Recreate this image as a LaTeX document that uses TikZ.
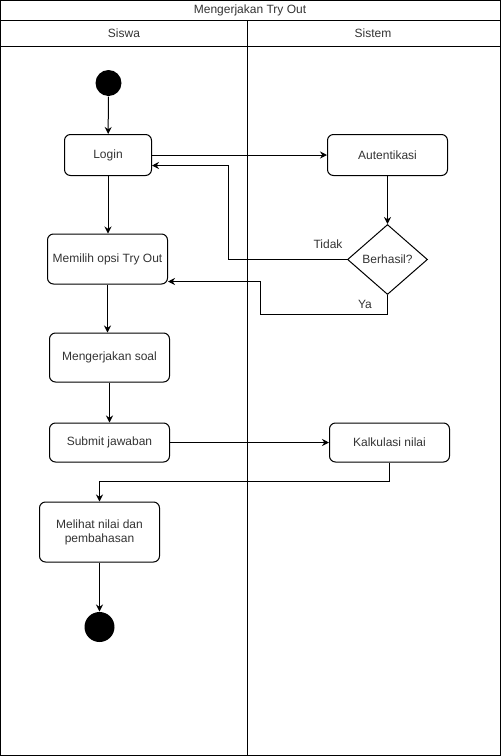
\documentclass[tikz,border=0pt]{standalone}
\usepackage{fontspec}
\setmainfont{Liberation Sans}
\usetikzlibrary{arrows.meta,shapes.geometric}
\tikzset{action/.style={draw, rounded corners=6pt, minimum width=120pt, minimum height=40pt, align=center, font=\fontsize{12}{14}\selectfont, text=black!80},
flow/.style={-{Stealth[length=7pt,width=7pt]}},
%lane texts share the same size
lanetext/.style={font=\fontsize{12}{14}\selectfont, text=black!80}}

\begin{document}
\begin{tikzpicture}[x=1pt,y=-1pt,line width=1pt]

\useasboundingbox (0,0) rectangle (502,756);

\draw (0.5,0.5) rectangle (500.5,755.5);
\draw (0.5,20.5) -- (500.5,20.5);
\draw (0.5,46.5) -- (500.5,46.5);
\draw (247.5,20.5) -- (247.5,755.5);

\node[lanetext] (title) at (250,10.5) {Mengerjakan Try Out};
\node[lanetext] (siswa) at (124,33.5) {Siswa};
\node[lanetext] (sistem) at (373,33.5) {Sistem};

\node[circle, fill=black, minimum size=26pt, inner sep=0pt] (start) at (108.5,83) {};
\node[action, minimum width=87pt, minimum height=41pt] (login) at (108,155) {Login};
\node[action, minimum height=41pt] (auth) at (387.5,155) {Autentikasi};
\node[diamond, draw, aspect=1.143, minimum width=80pt, minimum height=70pt, inner sep=0pt, lanetext] (cek) at (387.5,259.5) {Berhasil?};
\node[action, minimum height=50pt] (opsi) at (107.5,259) {Memilih opsi Try Out};
\node[action, minimum height=49pt] (soal) at (109.5,357.5) {Mengerjakan soal};
\node[action, minimum height=39pt] (submit) at (109.5,442.5) {Submit jawaban};
\node[action, minimum height=39pt] (nilai) at (389.5,442.5) {Kalkulasi nilai};
\node[action, minimum height=60pt] (lihat) at (99.5,532) {Melihat nilai dan\\pembahasan};
\node[circle, fill=black, minimum size=30pt, inner sep=0pt] (end) at (99.5,627) {};

\coordinate (1) at (228.5,259.5);
\coordinate (2) at (228.5,165.5);
\coordinate (3) at (387.5,314.5);
\coordinate (4) at (260.5,314.5);
\coordinate (5) at (260.5,281.5);
\coordinate (6) at (389.5,481.5);
\coordinate (7) at (99.5,481.5);

\draw[flow] (start) -- (login);
\draw[flow] (login.east) -- (auth.west);
\draw[flow] (auth) -- (cek);
\draw[flow] (cek.west) -- (1) -- (2) -- (login.east |- 2);
\draw[flow] (cek.south) -- (3) -- (4) -- (5) -- (opsi.east |- 5);
\draw[flow] (login) -- (login |- opsi.north);
\draw[flow] (opsi.south) -- (opsi.south |- soal.north);
\draw[flow] (soal) -- (submit);
\draw[flow] (submit) -- (nilai);
\draw[flow] (nilai.south) -- (6) -- (7) -- (lihat.north);
\draw[flow] (lihat) -- (end);

\node[lanetext] (tidak) at (328,244) {Tidak};
\node[lanetext] (ya) at (365,304) {Ya};

\end{tikzpicture}
\end{document}
